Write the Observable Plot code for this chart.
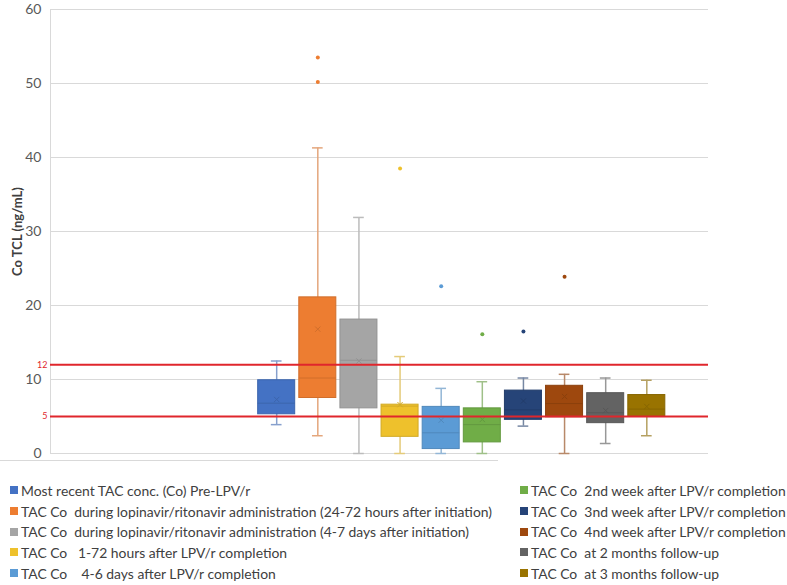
<!DOCTYPE html>
<html>
<head>
<meta charset="utf-8">
<script src="https://cdn.jsdelivr.net/npm/d3@7"></script>
<script src="https://cdn.jsdelivr.net/npm/@observablehq/plot@0.6"></script>
<style>
  body { margin: 0; background: #fff; font-family: Lato, "Open Sans", sans-serif; }
  #wrap { position: relative; width: 787px; height: 585px; }
  #sep { position: absolute; left: 0; top: 460px; width: 498px; height: 1px; background: #D9D9D9; }
  #legend { display: flex; padding-top: 10px; }
  .col { display: flex; flex-direction: column; }
  .item { display: flex; align-items: center; height: 20.7px; font-size: 13.9px; color: #404040; white-space: pre; }
  .sw { width: 8px; height: 8px; margin-right: 3px; flex: none; }
</style>
</head>
<body>
<div id="wrap">
  <div id="chart"></div>
  <div id="sep"></div>
  <div id="legend"></div>
</div>
<script>
const labels = [
  "Most recent TAC conc. (Co) Pre-LPV/r",
  "TAC Co  during lopinavir/ritonavir administration (24-72 hours after initiation)",
  "TAC Co  during lopinavir/ritonavir administration (4-7 days after initiation)",
  "TAC Co   1-72 hours after LPV/r completion",
  "TAC Co    4-6 days after LPV/r completion",
  "TAC Co  2nd week after LPV/r completion",
  "TAC Co  3nd week after LPV/r completion",
  "TAC Co  4nd week after LPV/r completion",
  "TAC Co  at 2 months follow-up",
  "TAC Co  at 3 months follow-up"
];
const colors = ["#4472C4", "#ED7D31", "#A5A5A5", "#EEC12C", "#5B9BD5", "#70AD47", "#264478", "#9E480E", "#636363", "#997300"];
const lowWhisker  = [3.9, 2.4, 0, 0, 0, 0, 3.7, 0, 1.35, 2.4];
const q1          = [5.3, 7.5, 6.1, 2.25, 0.6, 1.5, 4.55, 4.9, 4.1, 4.95];
const medians     = [6.8, 10.2, 12.6, 6.4, 2.8, 3.9, 5.9, 6.75, 5.5, 6.0];
const q3          = [9.9, 21.1, 18.1, 6.6, 6.3, 6.1, 8.5, 9.15, 8.15, 7.9];
const highWhisker = [12.5, 41.3, 31.9, 13.1, 8.8, 9.7, 10.2, 10.7, 10.2, 9.9];
const means       = [7.3, 16.8, 12.5, 6.6, 4.5, 4.6, 7.1, 7.7, 5.8, 6.35];
const outliers    = [[], [50.2, 53.5], [], [38.5], [22.6], [16.1], [16.5], [23.9], [], []];
const yTicks = [0, 10, 20, 30, 40, 50, 60];
const refLines = [5, 12];

const slotCount = 16, firstSlot = 5;
const rows = labels.map((label, i) => ({
  label, i,
  pos: i + firstSlot + 0.5,
  lo: lowWhisker[i], q1: q1[i], med: medians[i], q3: q3[i], hi: highWhisker[i], mean: means[i],
  color: colors[i],
  dark: d3.color(colors[i]).darker(0.35).formatHex(),
  wc: d3.interpolateRgb(colors[i], "#d8d8d8")(0.45)
}));
const outRows = rows.flatMap(r => outliers[r.i].map(v => ({pos: r.pos, v, color: r.color})));

const bw = 0.45, cw = 0.13;
const plot = Plot.plot({
  width: 787, height: 470,
  marginLeft: 50, marginRight: 79, marginTop: 9, marginBottom: 17,
  style: {fontFamily: "Lato, 'Open Sans', sans-serif"},
  x: {domain: [0, slotCount], axis: null},
  y: {domain: [0, 60]},
  marks: [
    Plot.gridY(yTicks, {stroke: "#D9D9D9", strokeOpacity: 1}),
    Plot.ruleX([0], {stroke: "#D9D9D9"}),
    Plot.axisY(yTicks, {tickSize: 0, tickPadding: 9, fontSize: 14, fill: "#595959",
      label: "Co TCL (ng/mL)", labelAnchor: "center", labelArrow: "none", labelOffset: 38}),
    Plot.ruleX(rows, {x: "pos", y1: "lo", y2: "hi", stroke: "wc", strokeWidth: 1.5}),
    Plot.ruleY(rows, {y: "hi", x1: d => d.pos - cw, x2: d => d.pos + cw, stroke: "wc", strokeWidth: 1.5}),
    Plot.ruleY(rows, {y: "lo", x1: d => d.pos - cw, x2: d => d.pos + cw, stroke: "wc", strokeWidth: 1.5}),
    Plot.rect(rows, {x1: d => d.pos - bw, x2: d => d.pos + bw, y1: "q1", y2: "q3", fill: "color", stroke: "dark", strokeWidth: 1}),
    Plot.ruleY(rows, {y: "med", x1: d => d.pos - bw, x2: d => d.pos + bw, stroke: "dark", strokeWidth: 1}),
    Plot.dot(rows, {x: "pos", y: "mean", symbol: "times", r: 2.5, stroke: "dark", strokeWidth: 1}),
    Plot.dot(outRows, {x: "pos", y: "v", r: 2, fill: "color", stroke: null}),
    Plot.ruleY(refLines, {stroke: "#E0262C", strokeWidth: 2}),
    Plot.text(refLines, {y: d => d, text: d => String(d), frameAnchor: "left", textAnchor: "end", dx: -3, fontSize: 9, fill: "#E0262C"})
  ]
});
document.getElementById("chart").appendChild(plot);
d3.select(plot).selectAll('g[aria-label="y-axis label"] text')
  .style("font-weight", "bold").style("font-size", "13px").attr("fill", "#404040");

const legend = document.getElementById("legend");
const cols = [[0, 5, "10px", "520px"], [5, 10, "0px", "267px"]];
cols.forEach(([a, b, pl, w]) => {
  const col = document.createElement("div");
  col.className = "col";
  col.style.paddingLeft = pl;
  col.style.width = w;
  col.style.boxSizing = "border-box";
  rows.slice(a, b).forEach(r => {
    const it = document.createElement("div");
    it.className = "item";
    const sw = document.createElement("span");
    sw.className = "sw";
    sw.style.background = r.color;
    it.appendChild(sw);
    it.appendChild(document.createTextNode(r.label));
    col.appendChild(it);
  });
  legend.appendChild(col);
});
</script>
</body>
</html>
